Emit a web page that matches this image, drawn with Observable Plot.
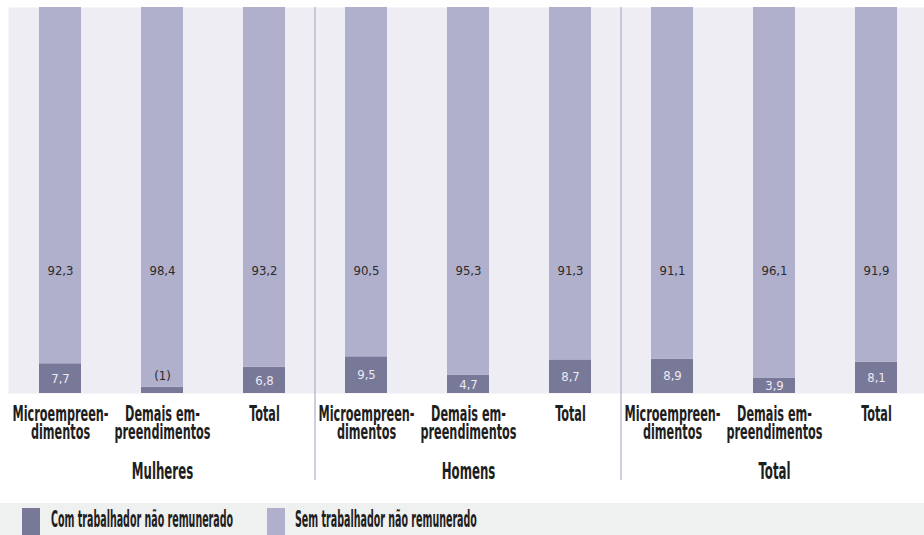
<!DOCTYPE html>
<html><head><meta charset="utf-8">
<script src="https://cdn.jsdelivr.net/npm/d3@7"></script>
<script src="https://cdn.jsdelivr.net/npm/@observablehq/plot@0.6"></script>
<style>
body{margin:0;background:#fff;font-family:"DejaVu Sans Condensed","DejaVu Sans",sans-serif;}
#legend{position:relative;width:924px;height:32px;background:#eff0f0;margin-top:3px;overflow:hidden;}
.sw{position:absolute;top:5px;width:18px;height:27px;}
.lt{position:absolute;top:5px;font-family:"DejaVu Sans Condensed","DejaVu Sans",sans-serif;font-stretch:condensed;font-weight:bold;font-size:23px;line-height:23px;transform:scaleX(0.46);transform-origin:left center;color:#1e1e1e;white-space:nowrap;}
</style></head>
<body><div id="chart"></div><div id="legend"></div>
<script>
const groups = ["Mulheres","Homens","Total"];
const categories = ["Microempreen-\ndimentos","Demais em-\npreendimentos","Total"];
const seriesNames = ["Com trabalhador não remunerado","Sem trabalhador não remunerado"];
const comValues = [7.7,1.6,6.8,9.5,4.7,8.7,8.9,3.9,8.1];
const semValues = [92.3,98.4,93.2,90.5,95.3,91.3,91.1,96.1,91.9];
const comLabels = ["7,7","(1)","6,8","9,5","4,7","8,7","8,9","3,9","8,1"];
const semLabels = ["92,3","98,4","93,2","90,5","95,3","91,3","91,1","96,1","91,9"];
const colors = ["#787899","#b1b0cc"];

const keys = groups.flatMap((g) => categories.map((c, ci) => g + "|" + ci));
const long = [];
keys.forEach((k, i) => long.push({key: k, series: seriesNames[0], value: comValues[i]}));
keys.forEach((k, i) => long.push({key: k, series: seriesNames[1], value: semValues[i]}));
const rows = keys.map((k, i) => ({key: k, com: comValues[i], sem: semValues[i], comLabel: comLabels[i], semLabel: semLabels[i]}));
const groupRows = groups.map((g) => ({key: g + "|1", label: g}));

const FONT = '"DejaVu Sans Condensed","DejaVu Sans",sans-serif';
const SQUEEZE = 0.57;
const plot = Plot.plot({
  width: 924, height: 500,
  marginTop: 7, marginBottom: 107, marginLeft: 8, marginRight: 0,
  style: {fontFamily: FONT, display: "block", background: "#fff"},
  x: {type: "band", domain: keys, range: [5.6, 930], paddingInner: 0.59, paddingOuter: 0.295, label: null},
  y: {domain: [0, 100], axis: null},
  color: {domain: seriesNames, range: colors},
  marks: [
    Plot.frame({fill: "#eeedf4", stroke: null}),
    Plot.barY(long, {x: "key", y: "value", fill: "series"}),
    Plot.text(rows, {x: "key", text: "semLabel", frameAnchor: "middle", dy: 70, fontSize: 13, fill: "#2a2a2a"}),
    Plot.text(rows.filter(d => d.com >= 3), {x: "key", y: d => d.com / 2, text: "comLabel", fontSize: 13, fill: "#eceaf3"}),
    Plot.text(rows.filter(d => d.com < 3), {x: "key", y: "com", text: "comLabel", dy: -11, fontSize: 13, fill: "#2a2a2a"}),
    Plot.axisX({tickSize: 0, tickPadding: 14, tickFormat: (k) => categories[+k.split("|")[1]], fontSize: 22, fontWeight: "bold", lineHeight: 0.84, fill: "#1e1e1e"}),
    Plot.text(groupRows, {x: "key", text: "label", frameAnchor: "bottom", dy: 85, fontSize: 23, fontWeight: "bold", fill: "#1e1e1e"})
  ]
});
document.getElementById("chart").appendChild(plot);

// condense bold labels horizontally around their anchor
d3.select(plot).selectAll("g[font-weight='bold'] text").each(function() {
  const t = this.getAttribute("transform") || "";
  this.setAttribute("transform", t + ` scale(${SQUEEZE},1)`);
});

// group separators at band boundaries, from the x scale
const xs = plot.scale("x");
const gap = xs.step - xs.bandwidth;
const svg = d3.select(plot);
[3, 6].forEach((i) => {
  const xb = xs.apply(keys[i]) - gap / 2;
  svg.append("line").attr("x1", xb).attr("x2", xb).attr("y1", 7).attr("y2", 480)
    .attr("stroke", "#aeadc8").attr("stroke-width", 1.2);
});

// legend
const legend = d3.select("#legend");
const lx = [[22, 51], [267, 295]];
seriesNames.forEach((s, i) => {
  legend.append("div").attr("class", "sw").style("left", lx[i][0] + "px").style("background", colors[i]);
  legend.append("div").attr("class", "lt").style("left", lx[i][1] + "px").text(s);
});
</script>
</body></html>
